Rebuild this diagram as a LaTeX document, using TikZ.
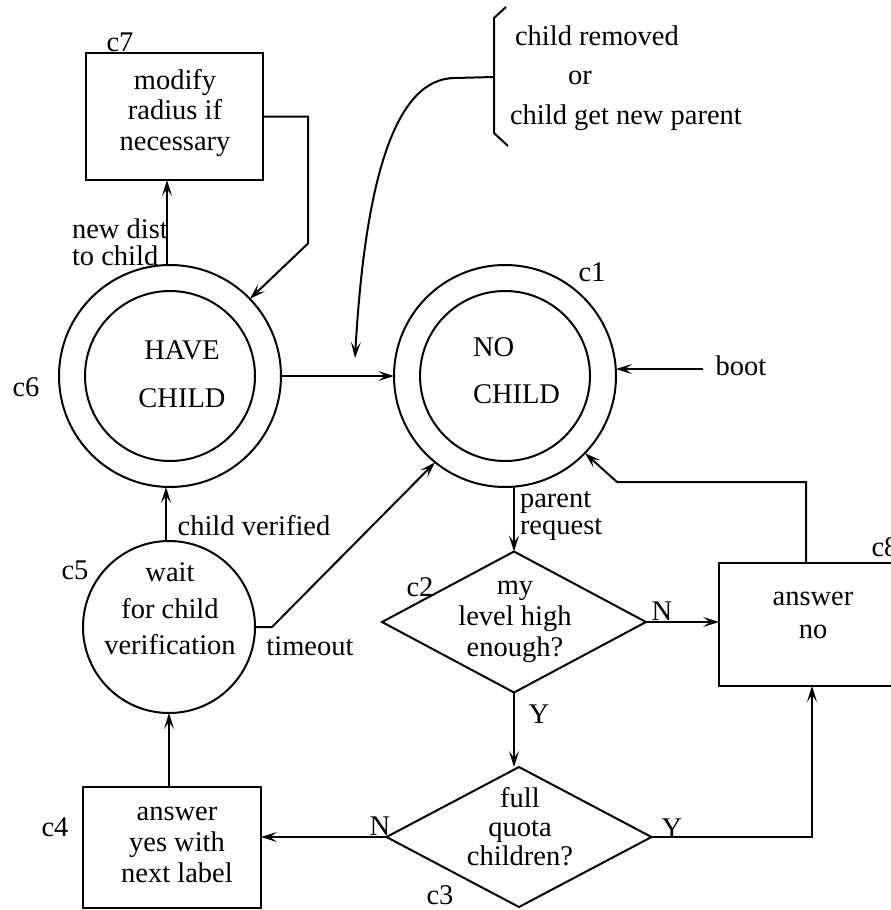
\documentclass[tikz,border=0pt]{standalone}
\usepackage{fontspec}
\setmainfont{Liberation Serif}
\usetikzlibrary{arrows.meta,shapes.geometric}

\begin{document}
\begin{tikzpicture}[x=1pt,y=-1pt,
  line width=2pt,
  every node/.style={font=\fontsize{28.5}{30}\selectfont, inner sep=2pt, outer sep=0pt},
  box/.style={draw, rectangle, inner sep=0pt},
  state/.style={draw, circle, inner sep=0pt},
  test/.style={draw, diamond, inner sep=0pt},
  tx/.style={font=\fontsize{28.5}{#1}\selectfont, align=center},
  txl/.style={font=\fontsize{28.5}{#1}\selectfont, align=left, anchor=west},
  arr/.style={-{Stealth[length=16pt,width=10pt,inset=7pt]}},
]
\useasboundingbox (0,0) rectangle (891,910);
\clip (0,0) rectangle (891,910);

% ---- shapes ----
\node[box, minimum width=177pt, minimum height=127pt] (c7) at (174.5,116.5) {};
\node[state, minimum size=222pt] (c6) at (170,376) {};
\node[state, minimum size=170pt] (c6i) at (170,376) {};
\node[state, minimum size=222pt] (c1) at (505,376) {};
\node[state, minimum size=170pt] (c1i) at (505,376) {};
\node[state, minimum size=172pt] (c5) at (169,627) {};
\node[box, minimum width=178pt, minimum height=121pt] (c4) at (172,847.5) {};
\node[test, minimum width=264pt, minimum height=141pt] (c2) at (514,622) {};
\node[test, minimum width=265pt, minimum height=140pt] (c3) at (519,837) {};
\node[box, minimum width=186pt, minimum height=123pt] (c8) at (812,624.5) {};

% ---- texts inside shapes ----
\node[tx=30.5] (c7t) at (175,113) {modify\\radius if\\necessary};
\node[tx=48] (c6t) at (182,374.5) {HAVE\\CHILD};
\node[txl=47] (c1t) at (471,371) {NO\\CHILD};
\node[tx=36.5] (c5t) at (170,609) {wait\\for child\\verification};
\node[tx=31] (c4t) at (177,844.5) {answer\\yes with\\next label};
\node[tx=31] (c2t) at (515,621.5) {my\\level high\\enough?};
\node[tx=29] (c3t) at (520,826.5) {full\\quota\\children?};
\node[tx=33] (c8t) at (813,615) {answer\\no};

% ---- shape labels ----
\node (l1) at (592,272) {c1};
\node (l2) at (420,587) {c2};
\node (l3) at (440,895) {c3};
\node (l4) at (55,827) {c4};
\node (l5) at (75,570) {c5};
\node (l6) at (26,387) {c6};
\node (l7) at (120,42) {c7};
\node (l8) at (885,547) {c8};

% ---- connector labels ----
\node[txl=27] (nd) at (70,242) {new dist\\to child};
\node (cv) at (254,526) {child verified};
\node (to) at (310,646) {timeout};
\node[txl=27] (pr) at (518,516) {parent\\request};
\node (boot) at (741,366) {boot};
\node (n1) at (662,611) {N};
\node (y1) at (539,714) {Y};
\node (y2) at (672,828) {Y};
\node (n2) at (380,826) {N};

% ---- event bracket ----
\node[txl=39.5] (brt) at (508,78) {\hspace*{5pt}child removed\\\hspace*{58pt}or\\child get new parent};
\coordinate (bk) at (494,77);
\coordinate (cend) at (355,358);
\draw (506,7) -- (494,18) -- (494,133) -- (508,146);
\draw[arr] (bk) -- (455,78) .. controls (395,78) and (365,180) .. (cend);

% ---- connectors ----
\draw[arr] ([xshift=-3pt]c6.north) -- ([xshift=-3pt]c6.north |- c7.south);
\draw[arr] (c7.east) -- ++(45,0) -- ++(0,127) -- (c6.44);
\draw[arr] (c6.east) -- (c1.west);
\draw[arr] ([xshift=-11pt,yshift=-3pt]boot.west) -- ([yshift=-3pt]boot.west -| c1.east);
\draw[arr] (c1.south -| c2.north) -- (c2.north);
\draw[arr] (c2.east) -- (c2.east -| c8.west);
\draw[arr] ([xshift=-6pt]c8.north) -- ++(0,-81) -- ++(-189,0) -- (c1.-44);
\draw[arr] (c2.south) -- (c2.south |- c3.north);
\draw[arr] (c3.east) -| (c8.south);
\draw[arr] (c3.west) -- (c3.west -| c4.east);
\draw[arr] (c5.south |- c4.north) -- (c5.south);
\draw[arr] ([xshift=-3pt]c5.north) -- ([xshift=-3pt]c5.north |- c6.south);
\draw[arr] (c5.east) -- ++(17,0) -- (c1.-129);

\end{tikzpicture}
\end{document}
